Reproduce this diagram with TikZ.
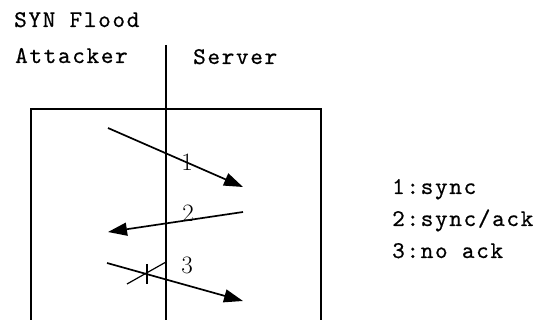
\documentclass[tikz,border=0pt]{standalone}
\usepackage{fontspec}
\usetikzlibrary{arrows.meta, positioning}
\newfontfamily\monofont{lmmono10-regular.otf}[LetterSpace=7, FakeBold=0.6]

\begin{document}
\begin{tikzpicture}[x=1pt, y=-1pt,
    txt/.style={font=\monofont\fontsize{24}{24}\selectfont, inner sep=0pt, anchor=base west},
    num/.style={font=\fontsize{25}{25}\selectfont, inner sep=0pt},
    line/.style={line width=1.7pt},
    arrow/.style={line width=1.7pt, -{Triangle[length=19pt,width=13pt]}}
]
    \useasboundingbox (0,0) rectangle (538,320);

    % titles
    \node (title) [txt] at (14,27) {SYN Flood};
    \node (att) [txt] at (15,63) {Attacker};
    \node (srv) [txt] at (193,64) {Server};

    % frame and divider
    \coordinate (tl) at (31,320);
    \coordinate (tr) at (321,320);
    \coordinate (top) at (166,45);
    \coordinate (bot) at (166,320);
    \draw [line] (tl) |- (166,109) -| (tr);
    \draw [line] (top) -- (bot);

    % messages
    \coordinate (a1) at (108,128);
    \coordinate (b1) at (243,187);
    \coordinate (a2) at (243,212);
    \coordinate (b2) at (108,232);
    \coordinate (a3) at (107,263);
    \coordinate (b3) at (243,301);
    \draw [arrow] (a1) -- (b1);
    \draw [arrow] (a2) -- (b2);
    \draw [arrow] (a3) -- (b3);
    \node (n1) [num] at (187,162) {1};
    \node (n2) [num] at (188,213) {2};
    \node (n3) [num] at (187,265) {3};

    % lost ack mark
    \coordinate (x1) at (147,264);
    \coordinate (x2) at (147,284);
    \coordinate (x3) at (127,284);
    \coordinate (x4) at (166,262);
    \draw [line, line width=1.2pt] (x1) -- (x2);
    \draw [line, line width=1.2pt] (x3) -- (x4);

    % legend
    \node (l1) [txt] at (392,194) {1:sync};
    \node (l2) [txt, below=32pt of l1.base west, anchor=base west] {2:sync/ack};
    \node (l3) [txt, below=32pt of l2.base west, anchor=base west] {3:no ack};
\end{tikzpicture}
\end{document}
